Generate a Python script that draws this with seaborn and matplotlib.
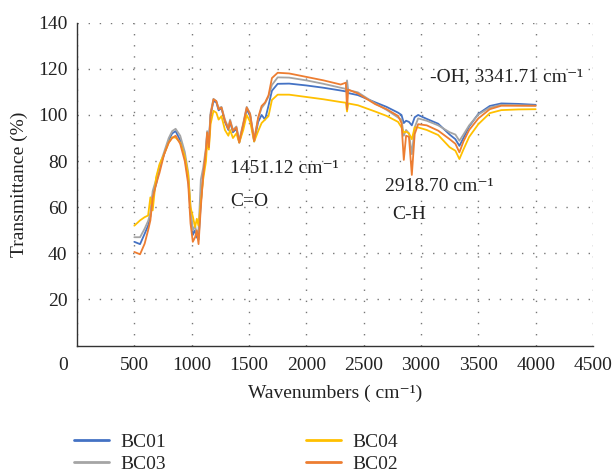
import matplotlib
matplotlib.use("Agg")
import matplotlib.pyplot as plt
import matplotlib.transforms as mtransforms
import seaborn as sns
import pandas as pd

# wavenumber grid (cm-1)
wavenumbers = [500, 550, 590, 620, 640, 660, 690, 720, 760, 800, 830, 860, 900, 940, 970, 990,
               1010, 1030, 1045, 1060, 1080, 1100, 1125, 1135, 1150, 1165, 1190, 1215, 1235, 1260,
               1290, 1320, 1335, 1360, 1390, 1415, 1450, 1480, 1510, 1545, 1580, 1610, 1640, 1670,
               1700, 1750, 1850, 2000, 2150, 2300, 2345, 2355, 2365, 2450, 2600, 2700, 2800, 2830,
               2850, 2870, 2895, 2920, 2945, 2975, 3050, 3150, 3250, 3300, 3335, 3370, 3420, 3500,
               3600, 3700, 3850, 4000]

bc01 = [45, 44, 48.5, 52, 56, 65, 70, 77, 83, 89, 92, 93, 89, 82, 72, 58,
        48, 50, 47, 46, 62, 74, 84, 92, 88, 100, 106, 105.5, 102, 103,
        97, 93.5, 97, 92.5, 94, 88, 95.5, 102.5, 99.5, 88.5, 97, 100, 98, 104,
        110.5, 113.5, 113.6, 112.8, 111.8, 110.6, 110.2, 112, 109.5, 108.6, 105.5, 103.5, 101, 100,
        96.5, 97.5, 97, 95.5, 99, 100, 98.3, 96.2, 91.5, 89.5, 86.6, 90, 95, 100.5,
        103.9, 105, 104.8, 104.4]

bc03 = [47, 47, 50.7, 54, 57.5, 67, 72, 78, 84, 90, 93, 94, 91, 84, 75, 60,
        50, 52, 48, 50, 72, 77, 86, 93, 89, 101, 107, 106, 103, 103.5,
        98, 94.5, 98, 93.5, 95, 89, 96.5, 103.5, 100.5, 89.5, 98.5, 103, 105, 108,
        113, 116.3, 116.2, 115, 113.5, 111.8, 111.3, 115, 110.8, 109.8, 105, 102.2, 98.9, 98,
        91, 93.5, 92, 83, 94.6, 98.5, 97.5, 95.5, 92.5, 91.5, 88.8, 91.5, 95.5, 100.2,
        103.2, 104.4, 104.2, 104]

bc04 = [52, 54.3, 55.7, 56.4, 64.3, 58.6, 73, 78.7, 83, 88, 90.3, 90.2, 88, 82, 74, 60,
        56, 51.4, 55, 52, 62, 72, 80, 88, 85, 96, 101.8, 101, 98, 99.5,
        93.5, 91, 93.5, 90, 92, 88, 93.5, 100, 97, 88.5, 93, 96.5, 98, 99.5,
        106.5, 108.8, 108.8, 107.8, 106.8, 105.6, 105.3, 101.5, 105, 104.2, 101.5, 99.6, 97, 94.6,
        92.4, 92.8, 92, 89.5, 94.6, 94.6, 93.5, 91.3, 86, 84.5, 80.9, 85, 90.5, 96,
        100.8, 102.1, 102.4, 102.5]

bc02 = [40.6, 39.6, 44.2, 50, 54.3, 64, 70, 75, 83, 88, 90, 91, 87.5, 80, 70, 53,
        45, 47, 50, 44, 60, 73.7, 85, 92.4, 86, 100, 106.8, 106, 102.5, 103.2,
        97.4, 93.9, 97.4, 93.1, 94.6, 88.1, 96, 103.2, 100.3, 88.8, 98.9, 103.9, 105.4, 108.5,
        116, 118.3, 118, 116.5, 115, 113.2, 114, 102.5, 111, 109.3, 104.7, 102.5, 99.6, 96.5,
        80.5, 91, 90.5, 74, 91.7, 96, 95.5, 93.2, 89.5, 87.5, 83.8, 88.5, 93.5, 98.5,
        102.5, 104, 104, 104]

series_names = ["BC01", "BC03", "BC04", "BC02"]
series_colors = ["#4472C4", "#A5A5A5", "#FFC000", "#ED7D31"]
x_ticks = [0, 500, 1000, 1500, 2000, 2500, 3000, 3500, 4000, 4500]
y_ticks = [20, 40, 60, 80, 100, 120, 140]

# long format table for seaborn
frames = []
for name, vals in zip(series_names, [bc01, bc03, bc04, bc02]):
    frames.append(pd.DataFrame({"wn": wavenumbers, "T": vals, "sample": name}))
df = pd.concat(frames, ignore_index=True)

sns.set_style("white")
plt.rcParams["font.family"] = ["Liberation Serif", "DejaVu Serif"]
fs = 14

fig = plt.figure(figsize=(6.14, 4.76), dpi=100)
ax = fig.add_axes([0.1254, 0.2739, 0.8404, 0.6784])

sns.lineplot(data=df, x="wn", y="T", hue="sample", hue_order=series_names,
             palette=series_colors, estimator=None, sort=False, linewidth=1.3,
             legend=False, ax=ax)

ax.set_xlim(0, 4500)
ax.set_ylim(0, 140)
ax.set_xticks(x_ticks)
ax.set_yticks(y_ticks)
ax.tick_params(length=0, labelsize=fs, colors="#222222")
ax.tick_params(axis="y", pad=7)
ax.tick_params(axis="x", pad=8)
ax.grid(True, color="#777777", linestyle=(0, (1, 7)), linewidth=1.0)
for s in ["top", "right"]:
    ax.spines[s].set_visible(False)
for s in ["left", "bottom"]:
    ax.spines[s].set_color("#333333")
    ax.spines[s].set_linewidth(1.0)

# the "0" label sits a bit left of the axis corner in the original
shift = mtransforms.ScaledTranslation(-14 / 100, 0, fig.dpi_scale_trans)
first_lbl = ax.get_xticklabels()[0]
first_lbl.set_transform(first_lbl.get_transform() + shift)

ax.set_xlabel("Wavenumbers ( cm⁻¹)", fontsize=fs, labelpad=8, color="#222222")
ax.set_ylabel("Transmittance (%)", fontsize=fs, labelpad=7, color="#222222")

# peak labels
ax.text(1333, 76.7, "1451.12 cm⁻¹", fontsize=fs, ha="left", va="center", color="#222222")
ax.text(1333, 62.5, "C=O", fontsize=fs, ha="left", va="center", color="#222222")
ax.text(2683, 69, "2918.70 cm⁻¹", fontsize=fs, ha="left", va="center", color="#222222")
ax.text(2752, 56.8, "C-H", fontsize=fs, ha="left", va="center", color="#222222")
ax.text(3075, 116.6, "-OH, 3341.71 cm⁻¹", fontsize=fs, ha="left", va="center", color="#222222")

handles = [plt.Line2D([], [], color=c, linewidth=2) for c in series_colors]
fig.legend(handles, series_names, ncol=2, loc="upper left", bbox_to_anchor=(0.12, 0.089),
           frameon=False, fontsize=fs, handlelength=1.8, handletextpad=0.6,
           columnspacing=7.2, labelspacing=0.2, borderpad=0, borderaxespad=0)

fig.savefig("out.png", dpi=100)
